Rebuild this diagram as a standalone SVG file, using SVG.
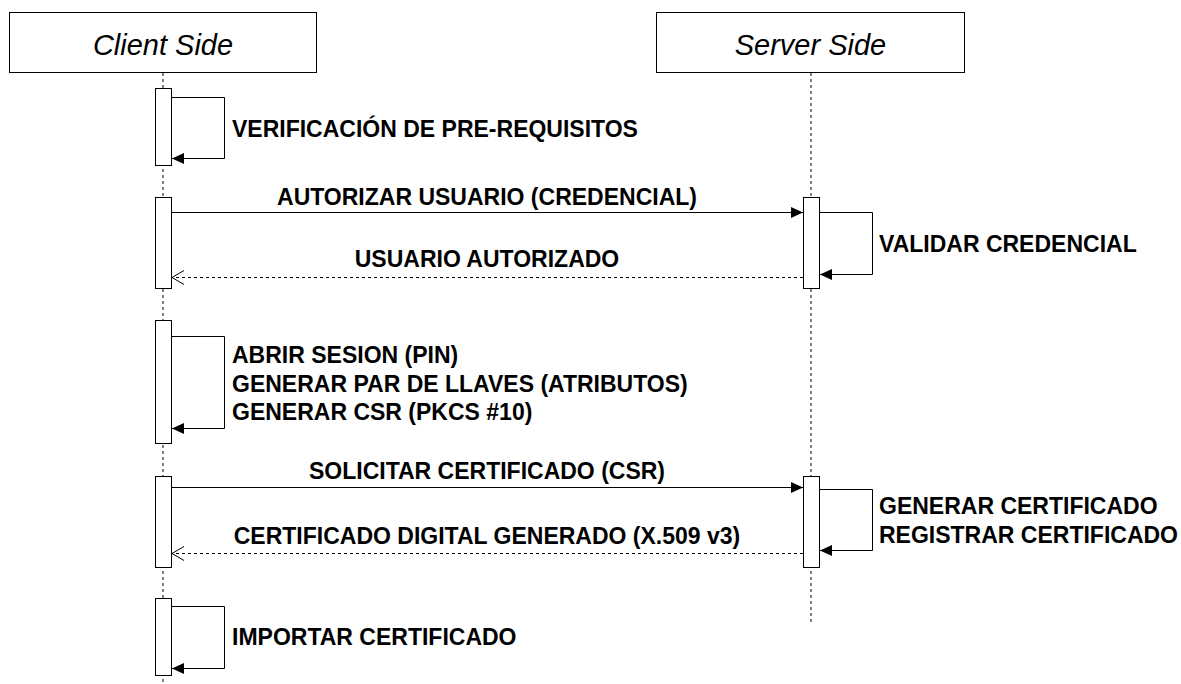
<svg xmlns="http://www.w3.org/2000/svg" width="1181" height="684" viewBox="0 0 1181 684">
  <style>
    .actor { fill: #ffffff; stroke: #000000; stroke-width: 1; }
    .actor-label { font-family: "Liberation Sans", Arial, sans-serif; font-style: italic; font-size: 29px; fill: #000000; text-anchor: middle; }
    .lifeline { fill: none; stroke: #000000; stroke-width: 1; stroke-dasharray: 3 3; }
    .bar { fill: #ffffff; stroke: #000000; stroke-width: 1; }
    .msg { fill: none; stroke: #000000; stroke-width: 1; }
    .reply { fill: none; stroke: #000000; stroke-width: 1; stroke-dasharray: 3 3; }
    .label { font-family: "Liberation Sans", Arial, sans-serif; font-weight: bold; font-size: 23px; fill: #000000; }
    .mid { text-anchor: middle; }
  </style>
  <defs>
    <marker id="filled" viewBox="0 0 12 12" refX="12" refY="6" markerWidth="12" markerHeight="12" markerUnits="userSpaceOnUse" orient="auto">
      <path d="M0,0.5 L12,6 L0,11.5 Z" fill="#000000"/>
    </marker>
    <marker id="open" viewBox="0 0 14 16" refX="13" refY="8" markerWidth="14" markerHeight="16" markerUnits="userSpaceOnUse" orient="auto">
      <path d="M1,1 L13,8 L1,15" fill="none" stroke="#000000" stroke-width="1"/>
    </marker>
  </defs>

  <!-- lifelines -->
  <g id="lifelines">
    <line class="lifeline" x1="163" y1="73" x2="163" y2="684"/>
    <line class="lifeline" x1="811" y1="73" x2="811" y2="625"/>
  </g>

  <!-- participants -->
  <g id="client">
    <rect class="actor" x="9.5" y="12.5" width="307" height="60"/>
    <text class="actor-label" x="163" y="55">Client Side</text>
  </g>
  <g id="server">
    <rect class="actor" x="656.5" y="12.5" width="308" height="60"/>
    <text class="actor-label" x="810.5" y="55">Server Side</text>
  </g>

  <!-- activation bars -->
  <g id="activations">
    <rect id="client-act-1" class="bar" x="155.5" y="88.5" width="16" height="77"/>
    <rect id="client-act-2" class="bar" x="155.5" y="197.5" width="16" height="91"/>
    <rect id="client-act-3" class="bar" x="155.5" y="320.5" width="16" height="123"/>
    <rect id="client-act-4" class="bar" x="155.5" y="476.5" width="16" height="91"/>
    <rect id="client-act-5" class="bar" x="155.5" y="598.5" width="16" height="77"/>
    <rect id="server-act-1" class="bar" x="803.5" y="197.5" width="16" height="91"/>
    <rect id="server-act-2" class="bar" x="803.5" y="476.5" width="16" height="91"/>
  </g>

  <!-- messages -->
  <g id="connectors">
    <path class="msg" d="M172,97.5 H224.5 V158.5 H172" marker-end="url(#filled)"/>
    <path class="msg" d="M172,212.5 H803" marker-end="url(#filled)"/>
    <path class="msg" d="M820,212.5 H872.5 V274.5 H820" marker-end="url(#filled)"/>
    <path class="reply" d="M803,277.5 H172" marker-end="url(#open)"/>
    <path class="msg" d="M172,336.5 H224.5 V428.5 H172" marker-end="url(#filled)"/>
    <path class="msg" d="M172,487.5 H803" marker-end="url(#filled)"/>
    <path class="msg" d="M820,489.5 H872.5 V550.5 H820" marker-end="url(#filled)"/>
    <path class="reply" d="M803,553.5 H172" marker-end="url(#open)"/>
    <path class="msg" d="M172,606.5 H224.5 V668.5 H172" marker-end="url(#filled)"/>
  </g>

  <!-- message labels -->
  <g id="labels">
    <text class="label" x="232" y="137">VERIFICACIÓN DE PRE-REQUISITOS</text>
    <text class="label mid" x="487" y="205">AUTORIZAR USUARIO (CREDENCIAL)</text>
    <text class="label" x="879" y="252">VALIDAR CREDENCIAL</text>
    <text class="label mid" x="487" y="267">USUARIO AUTORIZADO</text>
    <text class="label" x="232" y="363">ABRIR SESION (PIN)</text>
    <text class="label" x="232" y="391.5">GENERAR PAR DE LLAVES (ATRIBUTOS)</text>
    <text class="label" x="232" y="420">GENERAR CSR (PKCS #10)</text>
    <text class="label mid" x="487" y="479">SOLICITAR CERTIFICADO (CSR)</text>
    <text class="label" x="879" y="514">GENERAR CERTIFICADO</text>
    <text class="label" x="879" y="543">REGISTRAR CERTIFICADO</text>
    <text class="label mid" x="487" y="544">CERTIFICADO DIGITAL GENERADO (X.509 v3)</text>
    <text class="label" x="232" y="645">IMPORTAR CERTIFICADO</text>
  </g>
</svg>
